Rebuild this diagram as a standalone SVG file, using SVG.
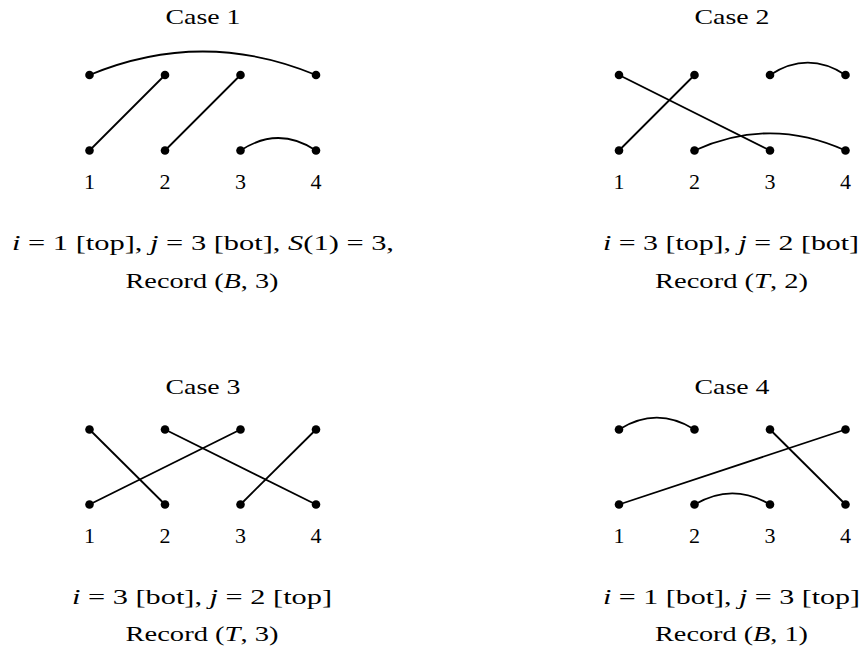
<svg xmlns="http://www.w3.org/2000/svg" width="862" height="650" viewBox="0 0 862 650">
<style>
text{font-family:"Liberation Serif","DejaVu Serif",serif;font-size:22px;fill:#000;text-anchor:middle}
.it{font-style:italic}
.e{stroke:#000;stroke-width:1.8;fill:none}
.d{fill:#000}
</style>
<rect width="862" height="650" fill="#fff"/>
<defs><circle id="dot" r="4.3" class="d"/></defs>

<g id="case1">
<text x="203" y="23.5" textLength="75" lengthAdjust="spacingAndGlyphs">Case 1</text>
<g id="case1-connectors">
<path class="e" d="M89.5,75 Q203,28 316,75"/>
<path class="e" d="M240.5,150.5 Q278.3,125.5 316,150.5"/>
<line class="e" x1="165" y1="75" x2="89.5" y2="150.5"/>
<line class="e" x1="240.5" y1="75" x2="165" y2="150.5"/>
</g>
<g id="case1-nodes">
<use href="#dot" x="89.5" y="75"/><use href="#dot" x="165" y="75"/><use href="#dot" x="240.5" y="75"/><use href="#dot" x="316" y="75"/>
<use href="#dot" x="89.5" y="150.5"/><use href="#dot" x="165" y="150.5"/><use href="#dot" x="240.5" y="150.5"/><use href="#dot" x="316" y="150.5"/>
</g>
<text x="89.5" y="189">1</text><text x="165" y="189">2</text><text x="240.5" y="189">3</text><text x="316" y="189">4</text>
<text x="203" y="250" textLength="382" lengthAdjust="spacingAndGlyphs"><tspan class="it">i</tspan> = 1 [top], <tspan class="it">j</tspan> = 3 [bot], <tspan class="it">S</tspan>(1) = 3,</text>
<text x="202" y="288" textLength="153" lengthAdjust="spacingAndGlyphs">Record (<tspan class="it">B</tspan>, 3)</text>
</g>

<g id="case2">
<text x="732" y="23.5" textLength="75" lengthAdjust="spacingAndGlyphs">Case 2</text>
<g id="case2-connectors">
<path class="e" d="M770,75 Q807.8,50.4 845.5,75"/>
<path class="e" d="M694.5,150.5 Q770,116.1 845.5,150.5"/>
<line class="e" x1="619" y1="75" x2="770" y2="150.5"/>
<line class="e" x1="694.5" y1="75" x2="619" y2="150.5"/>
</g>
<g id="case2-nodes">
<use href="#dot" x="619" y="75"/><use href="#dot" x="694.5" y="75"/><use href="#dot" x="770" y="75"/><use href="#dot" x="845.5" y="75"/>
<use href="#dot" x="619" y="150.5"/><use href="#dot" x="694.5" y="150.5"/><use href="#dot" x="770" y="150.5"/><use href="#dot" x="845.5" y="150.5"/>
</g>
<text x="619" y="189">1</text><text x="694.5" y="189">2</text><text x="770" y="189">3</text><text x="845.5" y="189">4</text>
<text x="731" y="250" textLength="256" lengthAdjust="spacingAndGlyphs"><tspan class="it">i</tspan> = 3 [top], <tspan class="it">j</tspan> = 2 [bot]</text>
<text x="731.5" y="288" textLength="153" lengthAdjust="spacingAndGlyphs">Record (<tspan class="it">T</tspan>, 2)</text>
</g>

<g id="case3">
<text x="203" y="393.5" textLength="75" lengthAdjust="spacingAndGlyphs">Case 3</text>
<g id="case3-connectors">
<line class="e" x1="89.5" y1="429.5" x2="165" y2="504.5"/>
<line class="e" x1="165" y1="429.5" x2="316" y2="504.5"/>
<line class="e" x1="240.5" y1="429.5" x2="89.5" y2="504.5"/>
<line class="e" x1="316" y1="429.5" x2="240.5" y2="504.5"/>
</g>
<g id="case3-nodes">
<use href="#dot" x="89.5" y="429.5"/><use href="#dot" x="165" y="429.5"/><use href="#dot" x="240.5" y="429.5"/><use href="#dot" x="316" y="429.5"/>
<use href="#dot" x="89.5" y="504.5"/><use href="#dot" x="165" y="504.5"/><use href="#dot" x="240.5" y="504.5"/><use href="#dot" x="316" y="504.5"/>
</g>
<text x="89.5" y="543">1</text><text x="165" y="543">2</text><text x="240.5" y="543">3</text><text x="316" y="543">4</text>
<text x="202" y="604" textLength="260" lengthAdjust="spacingAndGlyphs"><tspan class="it">i</tspan> = 3 [bot], <tspan class="it">j</tspan> = 2 [top]</text>
<text x="202" y="641" textLength="153" lengthAdjust="spacingAndGlyphs">Record (<tspan class="it">T</tspan>, 3)</text>
</g>

<g id="case4">
<text x="732" y="393.5" textLength="75" lengthAdjust="spacingAndGlyphs">Case 4</text>
<g id="case4-connectors">
<path class="e" d="M619,429.5 Q656.8,405.9 694.5,429.5"/>
<path class="e" d="M694.5,504.5 Q732.3,482.1 770,504.5"/>
<line class="e" x1="770" y1="429.5" x2="845.5" y2="504.5"/>
<line class="e" x1="845.5" y1="429.5" x2="619" y2="504.5"/>
</g>
<g id="case4-nodes">
<use href="#dot" x="619" y="429.5"/><use href="#dot" x="694.5" y="429.5"/><use href="#dot" x="770" y="429.5"/><use href="#dot" x="845.5" y="429.5"/>
<use href="#dot" x="619" y="504.5"/><use href="#dot" x="694.5" y="504.5"/><use href="#dot" x="770" y="504.5"/><use href="#dot" x="845.5" y="504.5"/>
</g>
<text x="619" y="543">1</text><text x="694.5" y="543">2</text><text x="770" y="543">3</text><text x="845.5" y="543">4</text>
<text x="731.5" y="604" textLength="257" lengthAdjust="spacingAndGlyphs"><tspan class="it">i</tspan> = 1 [bot], <tspan class="it">j</tspan> = 3 [top]</text>
<text x="731.5" y="641" textLength="153" lengthAdjust="spacingAndGlyphs">Record (<tspan class="it">B</tspan>, 1)</text>
</g>
</svg>
